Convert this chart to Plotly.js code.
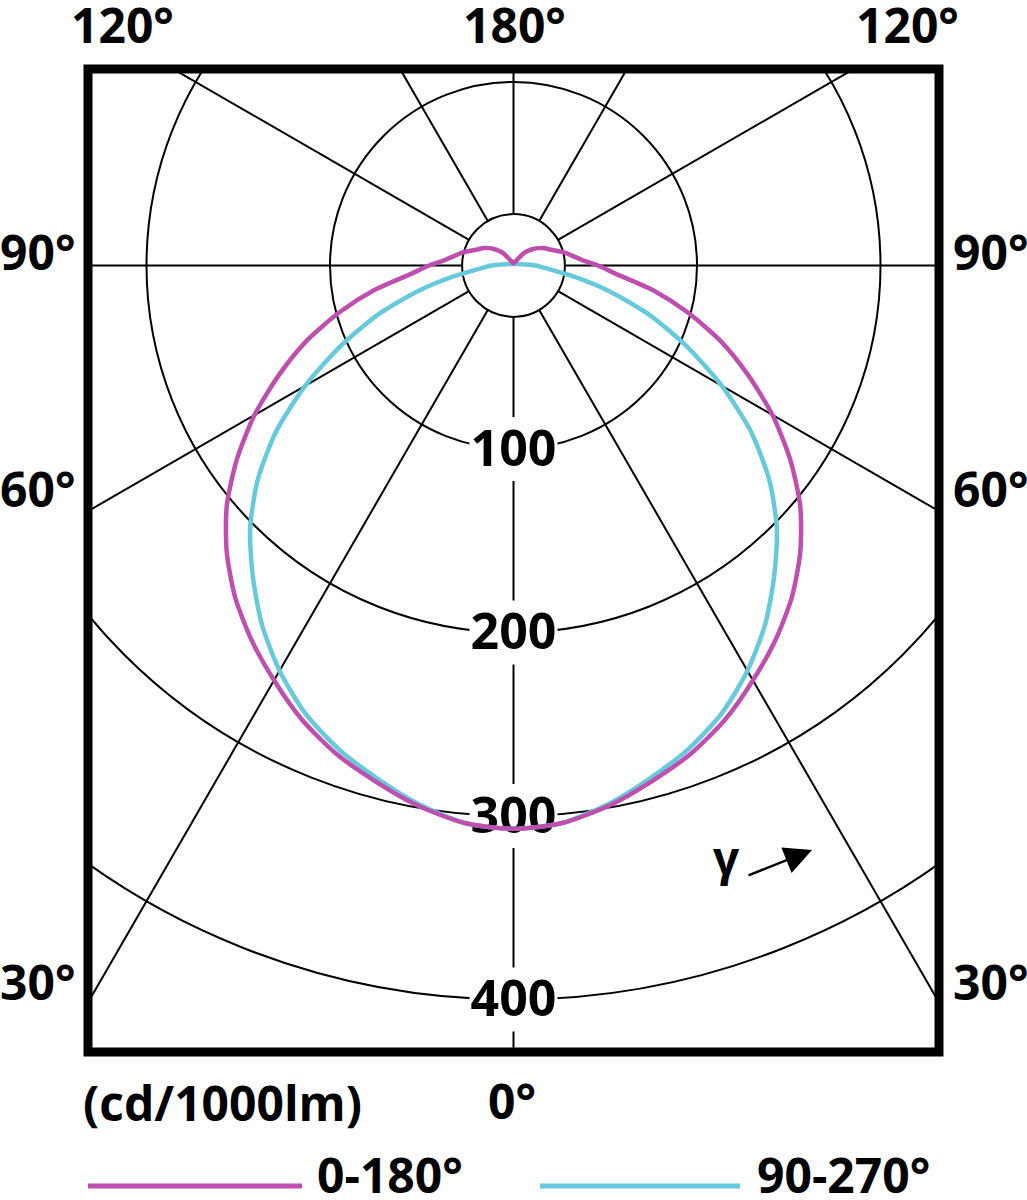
<!DOCTYPE html>
<html><head><meta charset="utf-8">
<script src="https://cdn.plot.ly/plotly-3.0.1.min.js"></script>
<style>html,body{margin:0;padding:0;background:#fff}#chart{width:1027px;height:1200px}</style>
</head><body><div id="chart"></div>
<script>
// ---- data ----
const gammaDeg = [0,5,10,15,20,25,30,35,40,45,50,55,60,65,70,75,80,85,90,95,100,105,110,115,120,125,130,135,140,145,150,155,160,165,170,175,180];
const intensity0_180 = [307,305,299,291,283,273,261,249,236,221,204,184,163,141,120,98,77,57,46,37,32,28,24,21,19,16.5,14,11.5,9,5,3.2,2.5,2,1.7,1.5,1.3,1.2];
const intensity90_270 = [307,305,298,289,280,269,255,239,221,203,182,158,131,104,79,54,32,18,12,6.5,4,3,2.2,1.9,1.6,1.4,1.2,1.1,1,1,0.9,0.9,0.9,0.8,0.8,0.8,0.8];
const seriesNames = ['0-180°','90-270°'];
const seriesColors = ['#be4fae','#66c9dc'];
const ringValues = [100,200,300,400];
const ringLabels = ['100','200','300','400'];
const innerRing = 28;
const spokeAngles = [0,30,60,90,120,150,180,210,240,270,300,330];
const topLabels = ['120°','180°','120°'];
const sideLabels = ['90°','60°','30°'];
const bottomLabel = '0°';
const unitLabel = '(cd/1000lm)';
const gammaLabel = 'γ';

// ---- geometry ----
const W = 1027, H = 1200;
const M = {l:88, r:88, t:69, b:148};
const S = 1.835;              // px per cd
const CX = 513.5, CY = 265.5; // pole position in px
const xr = [-(CX - M.l)/S, (W - M.r - CX)/S];
const yr = [-(H - M.b - CY)/S, (CY - M.t)/S];
const PW = W - M.l - M.r, PH = H - M.t - M.b;
const px = x => (x - M.l)/PW;
const py = y => (H - M.b - y)/PH;
const FONT = '"Open Sans", "Noto Sans", sans-serif';
const FW = 700, FS = 48;
const rad = d => d*Math.PI/180;

function curve(vals){
  let last = 0;
  for (let i=0;i<vals.length;i++) if (vals[i]>0) last = i;
  const end = Math.min(last+1, vals.length-1);
  const xs=[], ys=[];
  for (let i=end;i>=0;i--){ xs.push(-vals[i]*Math.sin(rad(gammaDeg[i]))); ys.push(-vals[i]*Math.cos(rad(gammaDeg[i]))); }
  for (let i=1;i<=end;i++){ xs.push(vals[i]*Math.sin(rad(gammaDeg[i]))); ys.push(-vals[i]*Math.cos(rad(gammaDeg[i]))); }
  return {xs, ys};
}

const shapes = [];
// rings
[innerRing, ...ringValues].forEach(r => shapes.push({type:'circle', xref:'x', yref:'y', x0:-r, x1:r, y0:-r, y1:r, line:{color:'#000', width:2}, layer:'below'}));
// spokes
spokeAngles.forEach(a => {
  const s = Math.sin(rad(a)), c = Math.cos(rad(a));
  shapes.push({type:'line', xref:'x', yref:'y', x0:innerRing*s, y0:-innerRing*c, x1:700*s, y1:-700*c, line:{color:'#000', width:2}, layer:'below'});
});
// white boxes behind ring labels
ringValues.forEach(r => shapes.push({type:'rect', xref:'x', yref:'y', xsizemode:'pixel', ysizemode:'pixel', xanchor:0, yanchor:-r, x0:-44, x1:44, y0:-32, y1:32, fillcolor:'#fff', line:{width:0}, layer:'below'}));
// frame
shapes.push({type:'rect', xref:'paper', yref:'paper', x0:0, x1:1, y0:0, y1:1, line:{color:'#000', width:9}, layer:'above'});
// legend lines
shapes.push({type:'line', xref:'paper', yref:'paper', x0:px(88), x1:px(302), y0:py(1186), y1:py(1186), line:{color:seriesColors[0], width:5}});
shapes.push({type:'line', xref:'paper', yref:'paper', x0:px(540), x1:px(740), y0:py(1186), y1:py(1186), line:{color:seriesColors[1], width:5}});

const c0 = curve(intensity0_180), c1 = curve(intensity90_270);
const labelShift = 4/S; // small vertical nudge so digits sit centred on the ring
const traces = [
  {type:'scatter', mode:'text', x:ringValues.map(()=>0), y:ringValues.map(r=>-r-labelShift), text:ringLabels, textposition:'middle center',
   textfont:{family:FONT, size:FS+2, color:'#000', weight:FW}, hoverinfo:'skip', showlegend:false, cliponaxis:false},
  {type:'scatter', mode:'lines', x:c1.xs, y:c1.ys, name:seriesNames[1], line:{color:seriesColors[1], width:4.5, shape:'spline', smoothing:0.7}, showlegend:false},
  {type:'scatter', mode:'lines', x:c0.xs, y:c0.ys, name:seriesNames[0], line:{color:seriesColors[0], width:4.5, shape:'spline', smoothing:0.7}, showlegend:false}
];

function ann(text, x, y, opts){
  return Object.assign({text, x:px(x), y:py(y), xref:'paper', yref:'paper', showarrow:false, xanchor:'center', yanchor:'middle',
    font:{family:FONT, size:FS, color:'#000', weight:FW}}, opts||{});
}
const annotations = [
  ann(topLabels[0], 122, 25), ann(topLabels[1], 514, 25), ann(topLabels[2], 907, 25),
  ann(sideLabels[0], 37, 252), ann(sideLabels[1], 37, 488), ann(sideLabels[2], 37, 981),
  ann(sideLabels[0], 990, 252), ann(sideLabels[1], 990, 488), ann(sideLabels[2], 990, 981),
  ann(bottomLabel, 512, 1100),
  ann(unitLabel, 222, 1102),
  ann(seriesNames[0], 315, 1174, {xanchor:'left'}),
  ann(seriesNames[1], 755, 1174, {xanchor:'left'}),
  ann(gammaLabel, 726, 857, {font:{family:FONT, size:46, color:'#000', weight:FW}}),
  {text:'', x:px(812), y:py(850), xref:'paper', yref:'paper', showarrow:true, ax:-65, ay:26, arrowhead:2, arrowsize:2.2, arrowwidth:2.5, arrowcolor:'#000', standoff:0, startstandoff:0}
];

const layout = {
  width:W, height:H, margin:M, paper_bgcolor:'#fff', plot_bgcolor:'#fff', showlegend:false, hovermode:false,
  xaxis:{range:xr, visible:false, fixedrange:true},
  yaxis:{range:yr, visible:false, fixedrange:true},
  shapes, annotations
};
Plotly.newPlot('chart', traces, layout, {staticPlot:true, displayModeBar:false});
</script>
</body></html>
